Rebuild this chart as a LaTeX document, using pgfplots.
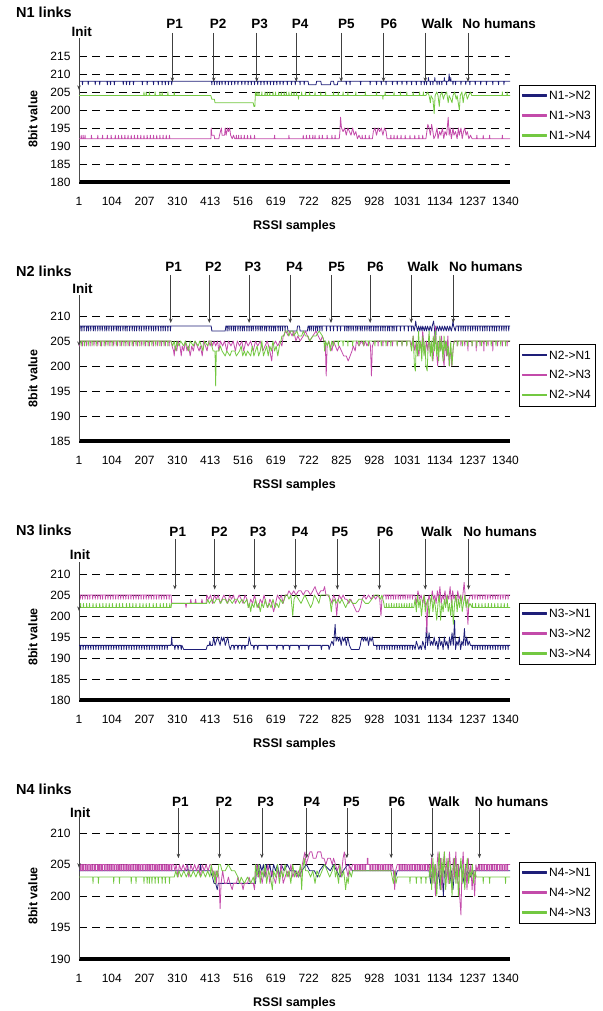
\documentclass[border=0pt]{standalone}
\usepackage{fontspec}
\setmainfont{Liberation Sans}
\usepackage{pgfplots}
\pgfplotsset{compat=1.18}
\usetikzlibrary{arrows.meta}
\definecolor{cnavy}{RGB}{30,30,120}
\definecolor{cmag}{RGB}{195,75,170}
\definecolor{cgreen}{RGB}{115,200,65}
\tikzset{ann/.style={font=\fontsize{13.5}{16}\selectfont\bfseries, inner sep=0pt},
  arr/.style={draw=black!75, line width=0.7pt, -{Stealth[length=4.5pt,width=3.5pt]}},
  ttl/.style={font=\fontsize{14.5}{17}\selectfont\bfseries, anchor=west, inner sep=0pt}}
\pgfplotsset{
  snavy/.style={draw=cnavy, legend image code/.code={\fill[cnavy] (0pt,-0.2pt) rectangle (24pt,1.3pt);}},
  smag/.style={draw=cmag, legend image code/.code={\fill[cmag] (0pt,-0.2pt) rectangle (24pt,1.3pt);}},
  sgreen/.style={draw=cgreen, legend image code/.code={\fill[cgreen] (0pt,-0.2pt) rectangle (24pt,1.3pt);}},
  panel/.style={scale only axis, width=431pt, height=126pt,
  xmin=1, xmax=1354, xtick={1,104,...,1340},
  axis x line*=bottom, axis y line*=left,
  x axis line style={-, line width=4.3pt},
  y axis line style={-, draw=black!70, line width=0.7pt},
  tick style={draw=none},
  ymajorgrids, grid style={dash pattern=on 8pt off 5.3pt, black, line width=0.7pt},
  ticklabel style={font=\fontsize{12}{14}\selectfont},
  xticklabel style={yshift=-12pt}, yticklabel style={xshift=-5pt},
  /pgf/number format/assume math mode=true, /pgf/number format/1000 sep={},
  xlabel={RSSI samples}, ylabel={8bit value},
  every axis x label/.style={at={(axis description cs:0.5,0)}, anchor=center, yshift=-44pt, font=\fontsize{12.5}{14}\selectfont\bfseries},
  every axis y label/.style={at={(axis description cs:0,0.5)}, anchor=center, rotate=90, yshift=46pt, font=\fontsize{12.5}{14}\selectfont\bfseries},
  clip=false, no markers,
  every axis plot/.append style={line width=0.8pt, line join=round},
  legend style={at={(axis description cs:1,0.5)}, anchor=west, xshift=9pt, yshift=3pt,
    draw=black, line width=0.8pt, font=\fontsize{12}{14}\selectfont,
    inner xsep=3pt, inner ysep=1pt, nodes={inner xsep=2pt, inner ysep=5pt}, row sep=0pt},
  legend cell align=left}}
\begin{document}
\begin{tikzpicture}
\useasboundingbox (0,0) rectangle (602pt,1011pt);
% ================= Panel 1 =================
\begin{axis}[panel, at={(79pt,829pt)}, anchor=south west, ymin=180, ymax=215, ytick={180,185,...,215}]
\addplot[snavy] coordinates {(1,208)(11,208)(12,207)(13,208)(29,208)(30,207)(31,208)(51,208)(52,207)(53,208)(65,208)(66,207)(67,208)(89,208)(90,207)(91,208)(99,208)(100,207)(101,208)(111,208)(112,207)(113,208)(139,208)(140,207)(141,208)(149,208)(150,207)(151,208)(159,208)(160,207)(161,208)(171,208)(172,207)(173,208)(199,208)(200,207)(201,208)(214,208)(215,207)(216,208)(234,208)(235,207)(236,208)(249,208)(250,207)(251,208)(261,208)(262,207)(263,208)(271,208)(272,207)(273,208)(281,208)(282,207)(283,208)(291,208)(292,207)(293,208)
(417,208)(418,207)(419,208)(425,208)(426,207)(427,208)(433,208)(434,207)(435,208)(441,208)(442,207)(443,208)(449,208)(450,207)(451,208)(459,208)(460,207)(461,208)(469,208)(470,207)(471,208)(479,208)(480,207)(481,208)(489,208)(490,207)(491,208)(499,208)(500,207)(501,208)(511,208)(512,207)(513,208)(521,208)(522,207)(523,208)(531,208)(532,207)(533,208)(541,208)(542,207)(543,208)(551,208)(552,207)(553,208)(561,208)(562,207)(563,208)(571,208)(572,207)(573,208)(581,208)(582,207)(583,208)(591,208)(592,207)(593,208)(601,208)(602,207)(603,208)(611,208)(612,207)(613,208)(621,208)(622,207)(623,208)(631,208)(632,207)(633,208)(641,208)(642,207)(643,208)(654,208)(655,207)(656,208)(667,208)(668,207)(669,208)(679,208)(680,207)(681,208)(694,208)(695,207)(696,208)(707,208)(708,207)(709,208)
(720,208)(722,207)(745,207)(747,208)(760,208)(762,207)(790,207)(792,208)(800,208)(802,207)(812,207)(814,208)
(839,208)(840,207)(841,208)(851,208)(852,207)(853,208)(884,208)(885,207)(886,208)(914,208)(915,207)(916,208)(934,208)(935,207)(936,208)(949,208)(950,207)(951,208)(964,208)(965,207)(966,208)(984,208)(985,207)(986,208)(999,208)(1000,207)(1001,208)(1014,208)(1015,207)(1016,208)(1029,208)(1030,207)(1031,208)(1044,208)(1045,207)(1046,208)(1059,208)(1060,207)(1061,208)(1074,208)(1075,207)(1076,208)(1084,208)(1085,207)(1086,208)
(1091,208)(1092,207)(1093,208)(1097,208)(1098,209)(1099,208)(1103,208)(1104,207)(1105,208)(1111,208)(1112,207)(1113,208)(1117,208)(1118,209)(1119,208)(1124,208)(1125,207)(1126,208)(1131,208)(1132,207)(1133,208)(1139,208)(1140,207)(1141,208)(1147,208)(1148,209)(1149,208)(1154,208)(1155,207)(1156,208)(1161,208)(1163,210)(1165,208)(1167,208)(1168,209)(1169,208)(1174,208)(1175,207)(1176,208)(1182,208)(1183,207)(1184,208)
(1199,208)(1200,207)(1201,208)(1214,208)(1215,207)(1216,208)(1227,208)(1228,207)(1229,208)(1244,208)(1245,207)(1246,208)(1261,208)(1262,207)(1263,208)(1279,208)(1280,207)(1281,208)(1299,208)(1300,207)(1301,208)(1317,208)(1318,207)(1319,208)(1334,208)(1335,207)(1336,208)(1354,208)};
\addplot[smag] coordinates {(1,192)(7,192)(8,193)(9,192)(13,192)(14,193)(15,192)(19,192)(20,193)(21,192)(39,192)(40,193)(41,192)(59,192)(60,193)(61,192)(74,192)(75,193)(76,192)(89,192)(90,193)(91,192)(101,192)(102,193)(103,192)(114,192)(115,193)(116,192)(124,192)(125,193)(126,192)(134,192)(135,193)(136,192)(144,192)(145,193)(146,192)(154,192)(155,193)(156,192)(164,192)(165,193)(166,192)(174,192)(175,193)(176,192)(184,192)(185,193)(186,192)(194,192)(195,193)(196,192)(204,192)(205,193)(206,192)(214,192)(215,193)(216,192)(224,192)(225,193)(226,192)(234,192)(235,193)(236,192)(244,192)(245,193)(246,192)(254,192)(255,193)(256,192)(264,192)(265,193)(266,192)(274,192)(275,193)(276,192)(284,192)(285,193)(286,192)
(415,192)(416,195)(418,193)(425,193)(427,192)(440,192)(442,193)(448,195)(450,193)(458,193)(460,195)(463,193)(467,195)(470,194)(474,195)(477,193)(482,192)(486,193)(490,192)
(494,192)(495,193)(496,192)(501,192)(502,193)(503,192)(509,192)(510,193)(511,192)(519,192)(520,193)(521,192)(529,192)(530,193)(531,192)(539,192)(540,193)(541,192)(551,192)(552,193)(553,192)
(614,192)(615,193)(616,192)(659,192)(660,193)(661,192)
(704,192)(705,193)(706,192)(714,192)(715,193)(716,192)(724,192)(725,193)(726,192)(734,192)(735,193)(736,192)(741,192)(742,193)(743,192)(754,192)(755,193)(756,192)(764,192)(765,193)(766,192)(779,192)(780,193)(781,192)(794,192)(795,193)(796,192)(804,192)(805,193)(806,192)
(818,192)(820,194)(822,198)(825,195)(830,194)(835,195)(840,193)(845,195)(850,194)(855,193)(860,195)(865,193)(870,194)(875,192)(880,193)(885,192)
(889,192)(890,193)(891,192)(899,192)(900,193)(901,192)(911,192)(912,193)(913,192)
(922,192)(925,194)(930,195)(935,193)(940,195)(945,194)(950,195)(955,193)(960,195)(965,194)(968,192)
(979,192)(980,193)(981,192)(989,192)(990,193)(991,192)(999,192)(1000,193)(1001,192)(1011,192)(1012,193)(1013,192)(1024,192)(1025,193)(1026,192)(1039,192)(1040,193)(1041,192)(1054,192)(1055,193)(1056,192)(1067,192)(1068,193)(1069,192)(1079,192)(1080,193)(1081,192)
(1090,192)(1093,194)(1096,196)(1100,195)(1104,193)(1108,196)(1112,194)(1115,192)(1120,193)(1125,195)(1128,192)(1133,194)(1137,193)(1142,195)(1146,192)(1150,194)(1155,193)(1160,198)(1163,193)(1166,195)(1170,192)(1175,195)(1178,193)(1183,194)(1188,192)(1192,195)(1195,193)(1200,195)(1204,192)(1208,194)(1212,195)(1216,193)(1220,194)(1225,192)(1230,193)(1235,192)
(1249,192)(1250,193)(1251,192)(1269,192)(1270,193)(1271,192)(1289,192)(1290,193)(1291,192)(1329,192)(1330,193)(1331,192)(1354,192)};
\addplot[sgreen] coordinates {(1,204)(204,204)(205,205)(206,204)(211,204)(212,205)(213,204)(221,204)(222,205)(223,204)(239,204)(240,205)(241,204)(254,204)(255,205)(256,204)(261,204)(262,205)(263,204)(279,204)(280,205)(281,204)(299,204)(300,205)(301,204)
(415,204)(418,203)(426,203)(428,202)(548,202)(550,201)(553,201)(555,205)(557,204)
(559,204)(560,205)(561,204)(565,204)(566,205)(567,204)(574,204)(575,205)(576,204)(584,204)(585,205)(586,204)(591,204)(592,205)(593,204)(599,204)(600,205)(601,204)(609,204)(610,205)(611,204)(617,204)(618,205)(619,204)(627,204)(628,205)(629,204)(635,204)(636,205)(637,204)(644,204)(645,205)(646,204)(651,204)(652,205)(653,204)(659,204)(660,205)(661,204)(667,204)(668,205)(669,204)(675,204)(676,205)(677,204)(683,204)(684,205)(685,204)(689,204)(690,203)(691,204)(699,204)(700,205)(701,204)
(711,204)(712,205)(713,204)(724,204)(725,205)(726,204)(741,204)(742,205)(743,204)(759,204)(760,205)(761,204)(774,204)(775,205)(776,204)(799,204)(800,205)(801,204)(814,204)(815,205)(816,204)(829,204)(830,205)(831,204)(844,204)(845,205)(846,204)(869,204)(870,205)(871,204)(899,204)(900,205)(901,204)(934,204)(935,205)(936,204)(954,204)(955,203)(956,204)(961,204)(962,205)(963,204)(989,204)(990,205)(991,204)(1009,204)(1010,205)(1011,204)(1029,204)(1030,205)(1031,204)(1049,204)(1050,205)(1051,204)(1069,204)(1070,205)(1071,204)(1081,204)(1082,205)(1083,204)
(1090,204)(1095,205)(1100,204)(1104,202)(1106,204)(1112,203)(1116,199)(1119,204)(1124,205)(1128,204)(1132,201)(1135,204)(1140,205)(1145,203)(1148,204)(1155,205)(1160,202)(1163,204)(1168,203)(1172,202)(1175,204)(1180,205)(1185,203)(1188,204)(1195,200)(1198,204)(1203,205)(1207,202)(1210,204)(1215,205)(1220,203)(1224,204)(1230,205)(1234,204)
(1329,204)(1330,205)(1331,204)(1344,204)(1345,205)(1346,204)(1354,204)};
\legend{N1->N2, N1->N3, N1->N4}
\node[ttl] at (axis cs:1,215) [xshift=-63pt, yshift=44pt] {N1 links};
\node[ann] at (axis cs:10,221.7) {Init};
\node[ann] at (axis cs:301,223.9) {P1};
\node[ann] at (axis cs:438,223.9) {P2};
\node[ann] at (axis cs:568,223.9) {P3};
\node[ann] at (axis cs:695,223.9) {P4};
\node[ann] at (axis cs:840,223.9) {P5};
\node[ann] at (axis cs:974,223.9) {P6};
\node[ann] at (axis cs:1125,223.9) {Walk};
\node[ann] at (axis cs:1320,223.9) {No humans};
\draw[arr] (axis cs:1,220) -- (axis cs:1,205.6);
\pgfplotsinvokeforeach{294,424,559,683,824,957,1088,1222}{\draw[arr] (axis cs:#1,221.4) -- (axis cs:#1,207.8);}
\end{axis}
% ================= Panel 2 =================
\begin{axis}[panel, at={(79pt,570pt)}, anchor=south west, height=125pt, ymin=185, ymax=210, ytick={185,190,...,210}]
\addplot[snavy] coordinates {(1,208)(3,208)(4,207)(5,208)(9,208)(10,207)(11,208)(16,208)(17,207)(18,208)(24,208)(25,207)(26,208)(30,208)(31,207)(32,208)(37,208)(38,207)(39,208)(45,208)(46,207)(47,208)(51,208)(52,207)(53,208)(59,208)(60,207)(61,208)(66,208)(67,207)(68,208)(73,208)(74,207)(75,208)(81,208)(82,207)(83,208)(87,208)(88,207)(89,208)(94,208)(95,207)(96,208)(102,208)(103,207)(104,208)(109,208)(110,207)(111,208)(117,208)(118,207)(119,208)(123,208)(124,207)(125,208)(130,208)(131,207)(132,208)(138,208)(139,207)(140,208)(145,208)(146,207)(147,208)(151,208)(152,207)(153,208)(159,208)(160,207)(161,208)(167,208)(168,207)(169,208)(174,208)(175,207)(176,208)(181,208)(182,207)(183,208)(189,208)(190,207)(191,208)(196,208)(197,207)(198,208)(204,208)(205,207)(206,208)(211,208)(212,207)(213,208)(219,208)(220,207)(221,208)(227,208)(228,207)(229,208)(234,208)(235,207)(236,208)(241,208)(242,207)(243,208)(249,208)(250,207)(251,208)(257,208)(258,207)(259,208)(264,208)(265,207)(266,208)(271,208)(272,207)(273,208)(279,208)(280,207)(281,208)(287,208)(288,207)(289,208)
(416,208)(418,207)(460,207)(462,208)
(465,208)(466,207)(467,208)(471,208)(472,207)(473,208)(478,208)(479,207)(480,208)(485,208)(486,207)(487,208)(491,208)(492,207)(493,208)(499,208)(500,207)(501,208)(506,208)(507,207)(508,208)(513,208)(514,207)(515,208)(519,208)(520,207)(521,208)(527,208)(528,207)(529,208)(534,208)(535,207)(536,208)(541,208)(542,207)(543,208)(547,208)(548,207)(549,208)(555,208)(556,207)(557,208)(562,208)(563,207)(564,208)(569,208)(570,207)(571,208)(575,208)(576,207)(577,208)(583,208)(584,207)(585,208)(589,208)(590,207)(591,208)(597,208)(598,207)(599,208)(604,208)(605,207)(606,208)(611,208)(612,207)(613,208)(617,208)(618,207)(619,208)(625,208)(626,207)(627,208)(632,208)(633,207)(634,208)(639,208)(640,207)(641,208)(647,208)(648,207)(649,208)
(655,208)(657,207)(685,207)(687,208)(693,208)(695,207)(718,207)(720,208)
(723,208)(724,207)(725,208)(729,208)(730,207)(731,208)(736,208)(737,207)(738,208)(743,208)(744,207)(745,208)(749,208)(750,207)(751,208)(756,208)(757,207)(758,208)(763,208)(764,207)(765,208)
(777,208)(778,207)(779,208)(789,208)(790,207)(791,208)(799,208)(800,207)(801,208)(811,208)(812,207)(813,208)(821,208)(822,207)(823,208)
(834,208)(835,207)(836,208)(841,208)(842,207)(843,208)(847,208)(848,207)(849,208)(854,208)(855,207)(856,208)(861,208)(862,207)(863,208)(869,208)(870,207)(871,208)(875,208)(876,207)(877,208)(883,208)(884,207)(885,208)(889,208)(890,207)(891,208)(897,208)(898,207)(899,208)(904,208)(905,207)(906,208)(911,208)(912,207)(913,208)(917,208)(918,207)(919,208)(925,208)(926,207)(927,208)(932,208)(933,207)(934,208)(939,208)(940,207)(941,208)(947,208)(948,207)(949,208)(954,208)(955,207)(956,208)(961,208)(962,207)(963,208)(969,208)(970,207)(971,208)(975,208)(976,207)(977,208)(983,208)(984,207)(985,208)(989,208)(990,207)(991,208)(997,208)(998,207)(999,208)
(1009,208)(1010,207)(1011,208)(1021,208)(1022,207)(1023,208)(1034,208)(1035,207)(1036,208)(1044,208)(1045,207)(1046,208)
(1050,208)(1053,207)(1056,208)(1058,209)(1060,208)(1064,207)(1067,208)(1071,207)(1074,208)(1078,207)(1080,208)(1085,207)(1088,208)(1092,207)(1095,208)(1100,207)(1103,208)(1108,207)(1110,208)(1114,209)(1116,208)(1120,205)(1122,207)(1125,208)(1130,207)(1133,208)(1138,207)(1141,208)(1146,207)(1149,208)(1154,207)(1157,208)(1162,207)(1165,208)(1170,207)(1173,208)(1175,209)(1177,208)(1182,207)(1185,208)
(1191,208)(1192,207)(1193,208)(1199,208)(1200,207)(1201,208)(1206,208)(1207,207)(1208,208)(1213,208)(1214,207)(1215,208)(1221,208)(1222,207)(1223,208)(1229,208)(1230,207)(1231,208)(1236,208)(1237,207)(1238,208)(1244,208)(1245,207)(1246,208)(1251,208)(1252,207)(1253,208)(1259,208)(1260,207)(1261,208)(1267,208)(1268,207)(1269,208)(1274,208)(1275,207)(1276,208)(1281,208)(1282,207)(1283,208)(1289,208)(1290,207)(1291,208)(1297,208)(1298,207)(1299,208)(1304,208)(1305,207)(1306,208)(1311,208)(1312,207)(1313,208)(1319,208)(1320,207)(1321,208)(1327,208)(1328,207)(1329,208)(1334,208)(1335,207)(1336,208)(1341,208)(1342,207)(1343,208)(1349,208)(1350,207)(1351,208)(1354,208)};
\addplot[smag] coordinates {(1,205)(2,205)(3,204)(4,205)(11,205)(12,204)(13,205)(23,205)(24,204)(25,205)(35,205)(36,204)(37,205)(47,205)(48,204)(49,205)(59,205)(60,204)(61,205)(71,205)(72,204)(73,205)(84,205)(85,204)(86,205)(97,205)(98,204)(99,205)(109,205)(110,204)(111,205)(121,205)(122,204)(123,205)(134,205)(135,204)(136,205)(147,205)(148,204)(149,205)(159,205)(160,204)(161,205)(171,205)(172,204)(173,205)(184,205)(185,204)(186,205)(197,205)(198,204)(199,205)(209,205)(210,204)(211,205)(221,205)(222,204)(223,205)(234,205)(235,204)(236,205)(247,205)(248,204)(249,205)(259,205)(260,204)(261,205)(271,205)(272,204)(273,205)(283,205)(284,204)(285,205)
(290,205)(293,204)(298,203)(300,202)(302,204)(308,203)(312,205)(318,204)(322,202)(325,204)(330,203)(335,205)(340,203)(345,204)(350,202)(355,204)(360,203)(366,205)(372,204)(378,203)(382,204)(388,202)(392,205)(398,204)(403,203)(408,205)(413,204)
(416,205)(420,204)(425,205)(430,204)(436,205)(440,203)(445,205)(452,204)(458,205)(465,203)(470,205)(478,204)(485,205)(492,203)(498,205)(505,204)(512,205)(518,203)(525,205)(532,204)(540,205)(548,203)(555,205)(562,204)(570,205)(578,203)(585,204)(592,205)(600,203)(606,201)(610,204)(618,205)(625,204)(632,205)(638,204)
(642,206)(650,207)(658,206)(662,207)(670,206)(675,207)(682,205)(688,206)(695,205)(705,206)(712,207)(718,206)(725,205)(735,206)(745,207)(752,206)(760,205)(765,206)(770,205)
(774,205)(777,198)(780,204)(785,205)(790,204)(795,203)(800,205)(806,204)(812,203)(818,204)(825,203)(832,202)(840,202)(846,201)(852,202)(858,203)(862,204)(868,203)(872,205)(880,204)(888,205)(895,204)(900,205)(905,204)(912,205)(916,204)(919,198)(922,204)(928,205)
(939,205)(940,204)(941,205)(954,205)(955,204)(956,205)(969,205)(970,204)(971,205)(984,205)(985,204)(986,205)(999,205)(1000,204)(1001,205)(1014,205)(1015,204)(1016,205)(1029,205)(1030,204)(1031,205)
(1042,205)(1046,204)(1050,206)(1055,203)(1060,205)(1064,204)(1068,202)(1072,205)(1076,203)(1080,207)(1084,204)(1088,202)(1092,205)(1096,203)(1100,206)(1104,202)(1108,205)(1112,201)(1116,204)(1120,208)(1123,203)(1127,200)(1131,205)(1135,203)(1139,206)(1143,202)(1147,200)(1151,205)(1155,202)(1159,206)(1163,200)(1167,204)(1171,200)(1175,203)(1178,205)
(1187,205)(1188,204)(1189,205)(1199,205)(1200,204)(1201,205)(1211,205)(1212,204)(1213,205)(1221,205)(1222,203)(1223,205)(1234,205)(1235,204)(1236,205)(1247,205)(1248,203)(1249,205)(1259,205)(1260,204)(1261,205)(1271,205)(1272,203)(1273,205)(1284,205)(1285,204)(1286,205)(1299,205)(1300,203)(1301,205)(1314,205)(1315,204)(1316,205)(1329,205)(1330,204)(1331,205)(1344,205)(1345,204)(1346,205)(1354,205)};
\addplot[sgreen] coordinates {(1,205)(7,205)(8,204)(9,205)(17,205)(18,204)(19,205)(29,205)(30,204)(31,205)(41,205)(42,204)(43,205)(54,205)(55,204)(56,205)(67,205)(68,204)(69,205)(79,205)(80,204)(81,205)(91,205)(92,204)(93,205)(104,205)(105,204)(106,205)(117,205)(118,204)(119,205)(129,205)(130,204)(131,205)(141,205)(142,204)(143,205)(154,205)(155,204)(156,205)(167,205)(168,204)(169,205)(179,205)(180,204)(181,205)(191,205)(192,204)(193,205)(204,205)(205,204)(206,205)(217,205)(218,204)(219,205)(229,205)(230,204)(231,205)(241,205)(242,204)(243,205)(254,205)(255,204)(256,205)(267,205)(268,204)(269,205)(279,205)(280,204)(281,205)
(290,205)(295,204)(300,205)(305,203)(308,205)(315,204)(320,205)(330,204)(335,205)(345,203)(350,205)(360,204)(365,205)(375,204)(380,205)(390,203)(395,205)(405,204)(410,205)
(415,205)(418,204)(422,203)(428,203)(430,196)(432,203)(440,203)(445,204)(450,203)(460,202)(465,203)(475,202)(480,203)(490,203)(495,202)(505,203)(510,204)(515,202)(520,203)(525,202)(530,203)(540,202)(545,204)(550,202)(555,203)(560,204)(565,202)(570,203)(575,205)(580,202)(585,203)(590,204)(595,202)(600,204)(605,203)(610,205)(615,203)(620,204)(625,202)(630,204)(635,205)(638,206)(645,206)(648,207)(655,207)(660,206)(665,207)(672,207)(675,206)(685,207)(690,206)(700,206)(705,207)(712,206)(720,206)(725,205)(735,206)(745,206)(755,207)(765,206)(770,205)(772,203)(775,205)(780,204)(785,205)(790,203)(795,205)(800,204)(803,205)
(814,205)(815,204)(816,205)(829,205)(830,204)(831,205)(844,205)(845,204)(846,205)(859,205)(860,204)(861,205)(879,205)(880,204)(881,205)(894,205)(895,204)(896,205)(909,205)(910,204)(911,205)(929,205)(930,204)(931,205)(949,205)(950,204)(951,205)(964,205)(965,204)(966,205)(979,205)(980,204)(981,205)(999,205)(1000,204)(1001,205)(1014,205)(1015,204)(1016,205)(1029,205)(1030,204)(1031,205)
(1040,205)(1045,203)(1050,206)(1054,200)(1057,199)(1060,205)(1064,202)(1067,207)(1070,203)(1074,205)(1077,201)(1080,206)(1084,202)(1087,205)(1090,200)(1094,199)(1097,204)(1100,207)(1104,202)(1107,205)(1110,201)(1113,206)(1117,203)(1120,207)(1124,202)(1127,205)(1130,201)(1134,206)(1137,203)(1140,205)(1144,201)(1147,206)(1150,203)(1154,205)(1157,202)(1160,204)(1164,200)(1168,205)(1172,200)(1176,204)(1180,205)
(1189,205)(1190,204)(1191,205)(1204,205)(1205,204)(1206,205)(1219,205)(1220,204)(1221,205)(1234,205)(1235,204)(1236,205)(1249,205)(1250,204)(1251,205)(1264,205)(1265,204)(1266,205)(1279,205)(1280,204)(1281,205)(1294,205)(1295,204)(1296,205)(1309,205)(1310,204)(1311,205)(1324,205)(1325,204)(1326,205)(1339,205)(1340,204)(1341,205)(1354,205)};
\legend{N2->N1, N2->N3, N2->N4}
\node[ttl] at (axis cs:1,210) [xshift=-63pt, yshift=45pt] {N2 links};
\node[ann] at (axis cs:12,215.4) {Init};
\node[ann] at (axis cs:298,219.8) {P1};
\node[ann] at (axis cs:423,219.8) {P2};
\node[ann] at (axis cs:547,219.8) {P3};
\node[ann] at (axis cs:677,219.8) {P4};
\node[ann] at (axis cs:810,219.8) {P5};
\node[ann] at (axis cs:931,219.8) {P6};
\node[ann] at (axis cs:1081,219.8) {Walk};
\node[ann] at (axis cs:1278,219.8) {No humans};
\draw[arr] (axis cs:1,214.2) -- (axis cs:1,204);
\pgfplotsinvokeforeach{289,410,535,664,792,915,1044,1176}{\draw[arr] (axis cs:#1,218.2) -- (axis cs:#1,208.6);}
\end{axis}
% ================= Panel 3 =================
\begin{axis}[panel, at={(79pt,311pt)}, anchor=south west, ymin=180, ymax=210, ytick={180,185,...,210}]
\addplot[snavy] coordinates {(1,193)(5,193)(6,192)(7,193)(13,193)(14,192)(15,193)(21,193)(22,192)(23,193)(29,193)(30,192)(31,193)(37,193)(38,192)(39,193)(45,193)(46,192)(47,193)(53,193)(54,192)(55,193)(61,193)(62,192)(63,193)(69,193)(70,192)(71,193)(77,193)(78,192)(79,193)(85,193)(86,192)(87,193)(93,193)(94,192)(95,193)(101,193)(102,192)(103,193)(109,193)(110,192)(111,193)(117,193)(118,192)(119,193)(125,193)(126,192)(127,193)(133,193)(134,192)(135,193)(141,193)(142,192)(143,193)(149,193)(150,192)(151,193)(157,193)(158,192)(159,193)(165,193)(166,192)(167,193)(173,193)(174,192)(175,193)(181,193)(182,192)(183,193)(189,193)(190,192)(191,193)(197,193)(198,192)(199,193)(205,193)(206,192)(207,193)(213,193)(214,192)(215,193)(221,193)(222,192)(223,193)(229,193)(230,192)(231,193)(237,193)(238,192)(239,193)(245,193)(246,192)(247,193)(253,193)(254,192)(255,193)(261,193)(262,192)(263,193)(269,193)(270,192)(271,193)(277,193)(278,192)(279,193)
(290,193)(292,195)(294,193)(300,193)(302,192)(304,193)(310,193)(312,192)(314,193)(320,193)(322,192)(324,193)(330,192)(400,192)(404,193)(410,193)(412,194)(414,193)
(420,193)(424,195)(428,193)(432,194)(436,195)(440,194)(444,193)(448,195)(452,194)(456,195)(460,193)(464,194)(468,195)(472,193)(476,192)(480,193)
(486,193)(488,192)(490,193)(498,193)(500,192)(502,193)(510,193)(512,192)(514,193)(520,193)(522,192)(524,193)(532,193)(535,195)(538,194)(541,193)(548,193)(550,192)(552,193)
(560,193)(562,192)(564,193)(590,193)(592,192)(594,193)(620,193)(622,192)(624,193)(640,193)(642,192)(644,193)(660,193)(662,192)(664,193)(690,193)(692,192)(694,193)(720,193)(722,192)(724,193)(760,193)(762,192)(764,193)(780,193)
(784,193)(786,192)(790,193)(795,194)(800,193)(805,198)(808,194)(812,195)(816,194)(820,195)(824,193)(828,195)(832,194)(836,195)(840,193)(845,195)(850,193)(856,192)(880,192)(884,193)
(886,194)(890,195)(894,194)(898,195)(902,194)(906,195)(910,193)(914,195)(918,194)(922,195)(926,193)(930,193)
(935,193)(936,192)(937,193)(943,193)(944,192)(945,193)(951,193)(952,192)(953,193)(959,193)(960,192)(961,193)(967,193)(968,192)(969,193)(975,193)(976,192)(977,193)(983,193)(984,192)(985,193)(991,193)(992,192)(993,193)(999,193)(1000,192)(1001,193)(1007,193)(1008,192)(1009,193)(1015,193)(1016,192)(1017,193)(1023,193)(1024,192)(1025,193)(1031,193)(1032,192)(1033,193)(1039,193)(1040,192)(1041,193)(1047,193)(1048,192)(1049,193)
(1052,193)(1056,192)(1060,194)(1064,193)(1068,192)(1072,193)(1076,192)(1080,194)(1084,193)(1088,192)(1092,198)(1095,193)(1100,196)(1104,193)(1108,194)(1112,193)(1116,195)(1120,193)(1124,194)(1128,192)(1132,195)(1136,193)(1140,194)(1144,192)(1148,195)(1152,193)(1156,194)(1160,192)(1164,195)(1168,193)(1172,196)(1176,193)(1180,199)(1183,192)(1187,194)(1191,193)(1195,195)(1199,192)(1203,194)(1207,193)(1211,197)(1214,193)(1218,195)(1222,193)(1226,194)(1230,193)
(1235,193)(1236,192)(1237,193)(1243,193)(1244,192)(1245,193)(1251,193)(1252,192)(1253,193)(1259,193)(1260,192)(1261,193)(1267,193)(1268,192)(1269,193)(1275,193)(1276,192)(1277,193)(1283,193)(1284,192)(1285,193)(1291,193)(1292,192)(1293,193)(1299,193)(1300,192)(1301,193)(1307,193)(1308,192)(1309,193)(1315,193)(1316,192)(1317,193)(1323,193)(1324,192)(1325,193)(1331,193)(1332,192)(1333,193)(1339,193)(1340,192)(1341,193)(1347,193)(1348,192)(1349,193)(1354,193)};
\addplot[smag] coordinates {(1,205)(4,205)(5,204)(6,205)(11,205)(12,204)(13,205)(19,205)(20,204)(21,205)(27,205)(28,204)(29,205)(34,205)(35,204)(36,205)(43,205)(44,204)(45,205)(51,205)(52,204)(53,205)(59,205)(60,204)(61,205)(67,205)(68,204)(69,205)(74,205)(75,204)(76,205)(83,205)(84,204)(85,205)(91,205)(92,204)(93,205)(99,205)(100,204)(101,205)(107,205)(108,204)(109,205)(115,205)(116,204)(117,205)(123,205)(124,204)(125,205)(131,205)(132,204)(133,205)(139,205)(140,204)(141,205)(147,205)(148,204)(149,205)(155,205)(156,204)(157,205)(163,205)(164,204)(165,205)(171,205)(172,204)(173,205)(179,205)(180,204)(181,205)(187,205)(188,204)(189,205)(195,205)(196,204)(197,205)(203,205)(204,204)(205,205)(211,205)(212,204)(213,205)(219,205)(220,204)(221,205)(227,205)(228,204)(229,205)(235,205)(236,204)(237,205)(243,205)(244,204)(245,205)(251,205)(252,204)(253,205)(259,205)(260,204)(261,205)(267,205)(268,204)(269,205)(275,205)(276,204)(277,205)(283,205)(284,204)(285,205)
(290,205)(292,203)(335,203)(337,202)(339,203)(350,203)(352,204)(354,203)(365,203)(367,204)(369,203)(385,203)(387,204)(389,203)(400,203)
(402,205)(408,204)(414,205)(420,203)(426,205)(432,204)(438,205)(444,203)(450,204)(456,205)(462,204)(468,203)(474,205)(480,204)(486,205)(492,203)(498,204)(504,205)(510,204)(516,203)(522,205)(528,204)(534,202)(540,204)(546,203)(552,205)(558,203)(564,202)(570,204)(576,203)(582,205)(588,203)(594,202)(600,204)(606,203)(612,201)(618,203)(624,205)(630,204)(636,205)(642,203)(648,205)
(655,205)(660,206)(668,205)(675,206)(682,205)(690,206)(698,206)(705,205)(712,206)(720,206)(728,205)(735,206)(742,207)(746,206)(752,205)(760,206)(768,206)(772,207)(776,205)(782,205)
(790,204)(795,203)(800,205)(806,204)(810,200)(813,203)(818,205)(824,204)(830,205)(836,204)(842,204)(848,203)(854,204)
(860,203)(866,202)(872,201)(878,201)(884,202)(890,204)(896,205)(902,204)(910,205)(918,204)(925,205)(932,204)(940,205)(945,204)(949,200)(952,204)(958,205)
(964,205)(965,204)(966,205)(971,205)(972,204)(973,205)(979,205)(980,204)(981,205)(987,205)(988,204)(989,205)(994,205)(995,204)(996,205)(1002,205)(1003,204)(1004,205)(1009,205)(1010,204)(1011,205)(1017,205)(1018,204)(1019,205)(1024,205)(1025,204)(1026,205)(1032,205)(1033,204)(1034,205)(1039,205)(1040,204)(1041,205)(1047,205)(1048,204)(1049,205)
(1055,205)(1060,203)(1065,206)(1070,204)(1075,205)(1080,203)(1085,205)(1090,202)(1093,196)(1096,203)(1100,205)(1105,203)(1110,206)(1114,204)(1118,205)(1122,203)(1126,206)(1130,204)(1134,207)(1138,203)(1142,205)(1146,204)(1150,206)(1154,203)(1158,205)(1162,204)(1166,207)(1170,203)(1174,206)(1178,204)(1182,205)(1186,203)(1190,206)(1194,204)(1198,205)(1202,203)(1206,205)(1210,208)(1214,204)(1218,203)(1222,198)(1225,204)(1230,205)
(1235,205)(1236,204)(1237,205)(1243,205)(1244,204)(1245,205)(1251,205)(1252,204)(1253,205)(1259,205)(1260,204)(1261,205)(1267,205)(1268,204)(1269,205)(1275,205)(1276,204)(1277,205)(1283,205)(1284,204)(1285,205)(1291,205)(1292,204)(1293,205)(1299,205)(1300,204)(1301,205)(1307,205)(1308,204)(1309,205)(1315,205)(1316,204)(1317,205)(1323,205)(1324,204)(1325,205)(1331,205)(1332,204)(1333,205)(1339,205)(1340,204)(1341,205)(1347,205)(1348,204)(1349,205)(1354,205)};
\addplot[sgreen] coordinates {(1,202)(5,202)(6,203)(7,202)(14,202)(15,203)(16,202)(24,202)(25,203)(26,202)(33,202)(34,203)(35,202)(44,202)(45,203)(46,202)(54,202)(55,203)(56,202)(65,202)(66,203)(67,202)(75,202)(76,203)(77,202)(85,202)(86,203)(87,202)(95,202)(96,203)(97,202)(105,202)(106,203)(107,202)(117,202)(118,203)(119,202)(127,202)(128,203)(129,202)(137,202)(138,203)(139,202)(149,202)(150,203)(151,202)(159,202)(160,203)(161,202)(169,202)(170,203)(171,202)(179,202)(180,203)(181,202)(191,202)(192,203)(193,202)(201,202)(202,203)(203,202)(211,202)(212,203)(213,202)(221,202)(222,203)(223,202)(233,202)(234,203)(235,202)(243,202)(244,203)(245,202)(255,202)(256,203)(257,202)(265,202)(266,203)(267,202)(275,202)(276,203)(277,202)(285,202)(286,203)(287,202)
(290,202)(292,203)(400,203)
(402,203)(405,204)(410,203)(418,204)(425,203)(432,204)(440,204)(446,203)(452,204)(460,204)(466,203)(474,204)(482,203)(490,204)(498,204)(505,203)(512,204)(520,203)(528,204)
(532,202)(536,203)(540,201)(544,203)(550,202)(555,204)(560,202)(565,203)(570,201)(575,203)(580,202)(586,204)(592,202)(598,203)(604,202)(610,204)(616,202)(622,203)(628,202)(634,204)(640,203)(646,204)(650,205)
(655,205)(660,204)(666,205)(672,200)(676,204)(682,205)(690,204)(698,203)(704,204)(710,205)(716,204)(722,203)(728,202)(734,203)(740,205)(748,204)(754,203)(760,205)(770,205)(780,205)
(786,205)(790,203)(793,201)(796,203)(802,204)(808,203)(814,204)(820,203)(826,204)(832,203)(838,202)(844,203)(850,204)
(860,203)(870,203)(880,204)(890,204)(900,203)(910,203)(920,204)(930,205)(940,205)(948,204)(952,205)
(958,203)(960,202)(965,202)(966,203)(967,202)(973,202)(974,203)(975,202)(981,202)(982,203)(983,202)(989,202)(990,203)(991,202)(997,202)(998,203)(999,202)(1005,202)(1006,203)(1007,202)(1013,202)(1014,203)(1015,202)(1021,202)(1022,203)(1023,202)(1029,202)(1030,203)(1031,202)(1037,202)(1038,203)(1039,202)(1045,202)(1046,203)(1047,202)
(1052,202)(1056,204)(1060,201)(1064,205)(1068,202)(1072,204)(1076,200)(1080,203)(1084,205)(1088,201)(1092,203)(1096,204)(1100,200)(1104,203)(1108,205)(1112,201)(1116,204)(1120,202)(1124,199)(1128,203)(1132,205)(1136,199)(1140,203)(1144,201)(1148,204)(1152,202)(1156,205)(1160,201)(1164,203)(1168,200)(1172,204)(1176,198)(1180,203)(1184,205)(1188,201)(1192,204)(1196,202)(1200,205)(1204,201)(1208,203)(1212,205)(1216,202)(1220,204)(1224,202)(1228,203)
(1235,202)(1236,203)(1237,202)(1245,202)(1246,203)(1247,202)(1255,202)(1256,203)(1257,202)(1265,202)(1266,203)(1267,202)(1275,202)(1276,203)(1277,202)(1285,202)(1286,203)(1287,202)(1295,202)(1296,203)(1297,202)(1305,202)(1306,203)(1307,202)(1315,202)(1316,203)(1317,202)(1325,202)(1326,203)(1327,202)(1335,202)(1336,203)(1337,202)(1345,202)(1346,203)(1347,202)(1354,202)};
\legend{N3->N1, N3->N2, N3->N4}
\node[ttl] at (axis cs:1,210) [xshift=-63pt, yshift=44pt] {N3 links};
\node[ann] at (axis cs:4,214.5) {Init};
\node[ann] at (axis cs:311,220) {P1};
\node[ann] at (axis cs:442,220) {P2};
\node[ann] at (axis cs:563,220) {P3};
\node[ann] at (axis cs:694,220) {P4};
\node[ann] at (axis cs:820,220) {P5};
\node[ann] at (axis cs:962,220) {P6};
\node[ann] at (axis cs:1124,220) {Walk};
\node[ann] at (axis cs:1323,220) {No humans};
\draw[arr] (axis cs:1,212.9) -- (axis cs:1,201.2);
\pgfplotsinvokeforeach{302,427,552,680,812,944,1088,1224}{\draw[arr] (axis cs:#1,218.3) -- (axis cs:#1,206.3);}
\end{axis}
% ================= Panel 4 =================
\begin{axis}[panel, at={(79pt,52pt)}, anchor=south west, ymin=190, ymax=210, ytick={190,195,...,210}]
\addplot[snavy] coordinates {(1,204)(300,204)(340,204)(342,205)(344,204)(380,204)(382,205)(384,204)(413,204)(420,203)(425,202)(430,202)(435,201)(438,202)(555,202)(558,204)(562,205)(566,203)(570,205)(575,204)(580,205)(585,203)(590,205)(595,204)(600,205)(606,203)(612,205)(618,204)(624,205)(630,203)(636,205)(645,204)(655,205)(665,204)(680,204)(690,203)(700,204)(715,205)(725,204)(740,204)(750,203)(756,204)(770,205)(790,204)(800,205)(810,204)(820,203)(830,204)(845,205)(860,204)(990,204)(995,203)(1000,204)(1100,204)(1105,202)(1110,204)(1115,203)(1120,205)(1125,202)(1130,204)(1135,201)(1140,204)(1145,200)(1148,204)(1155,203)(1160,205)(1165,202)(1170,204)(1175,201)(1180,204)(1190,203)(1200,205)(1210,202)(1220,204)(1230,203)(1240,204)(1354,204)};
\addplot[smag] coordinates {(1,205)(5,205)(5,204)(8,204)(8,205)(12,205)(12,204)(15,204)(15,205)(20,205)(20,204)(23,204)(23,205)(27,205)(27,204)(30,204)(30,205)(35,205)(35,204)(38,204)(38,205)(42,205)(42,204)(45,204)(45,205)(50,205)(50,204)(53,204)(53,205)(58,205)(58,204)(61,204)(61,205)(65,205)(65,204)(68,204)(68,205)(72,205)(72,204)(75,204)(75,205)(80,205)(80,204)(83,204)(83,205)(88,205)(88,204)(91,204)(91,205)(95,205)(95,204)(98,204)(98,205)(102,205)(102,204)(105,204)(105,205)(110,205)(110,204)(113,204)(113,205)(118,205)(118,204)(121,204)(121,205)(125,205)(125,204)(128,204)(128,205)(132,205)(132,204)(135,204)(135,205)(140,205)(140,204)(143,204)(143,205)(148,205)(148,204)(151,204)(151,205)(155,205)(155,204)(158,204)(158,205)(162,205)(162,204)(165,204)(165,205)(170,205)(170,204)(173,204)(173,205)(178,205)(178,204)(181,204)(181,205)(185,205)(185,204)(188,204)(188,205)(192,205)(192,204)(195,204)(195,205)(200,205)(200,204)(203,204)(203,205)(208,205)(208,204)(211,204)(211,205)(215,205)(215,204)(218,204)(218,205)(222,205)(222,204)(225,204)(225,205)(230,205)(230,204)(233,204)(233,205)(238,205)(238,204)(241,204)(241,205)(245,205)(245,204)(248,204)(248,205)(252,205)(252,204)(255,204)(255,205)(260,205)(260,204)(263,204)(263,205)(268,205)(268,204)(271,204)(271,205)(275,205)(275,204)(278,204)(278,205)(282,205)(282,204)(285,204)(285,205)(290,205)(290,204)(293,204)(293,205)
(298,205)(302,204)(306,205)(312,203)(316,205)(322,204)(328,205)(334,204)(340,205)(346,203)(352,205)(358,204)(364,205)(370,204)(376,205)(382,203)(388,205)(394,204)(400,205)(406,204)(412,205)
(416,205)(420,204)(424,203)(428,204)(432,202)(436,204)(440,203)(444,198)(447,202)(452,204)(458,202)
(465,202)(470,203)(475,202)(482,201)(486,202)(495,202)(500,203)(505,202)(512,202)(516,201)(520,202)(530,202)(535,203)(540,202)(548,202)(552,201)(555,204)
(560,205)(565,203)(570,204)(576,202)(582,204)(588,203)(594,205)(600,202)(606,204)(612,203)(618,202)(624,204)(630,203)(636,205)(642,202)(648,203)(654,204)(660,203)(666,205)(672,203)(678,204)(684,203)(690,204)(696,203)(702,205)
(706,206)(710,207)(714,205)(720,206)(726,207)(732,207)(736,206)(745,206)(750,207)(760,207)(764,206)(770,206)(776,205)(782,206)(790,206)(796,205)(800,206)
(806,205)(812,204)(818,205)(824,203)(830,206)(834,207)(838,205)(842,204)(846,203)(850,205)(855,204)(860,205)
(866,205)(866,204)(869,204)(869,205)(874,205)(874,204)(877,204)(877,205)(882,205)(882,204)(885,204)(885,205)(890,205)(890,204)(893,204)(893,205)(898,205)(898,204)(901,204)(901,205)(906,205)(906,206)(908,206)(908,205)(914,205)(914,204)(917,204)(917,205)(922,205)(922,204)(925,204)(925,205)(930,205)(930,204)(933,204)(933,205)(938,205)(938,204)(941,204)(941,205)(946,205)(946,204)(949,204)(949,205)(954,205)(954,204)(957,204)(957,205)(962,205)(962,204)(965,204)(965,205)(970,205)(970,204)(973,204)(973,205)(978,205)(978,204)(981,204)(981,205)
(984,205)(988,204)(992,201)(995,204)(1000,205)
(1006,205)(1006,204)(1009,204)(1009,205)(1014,205)(1014,204)(1017,204)(1017,205)(1022,205)(1022,204)(1025,204)(1025,205)(1030,205)(1030,204)(1033,204)(1033,205)(1038,205)(1038,204)(1041,204)(1041,205)(1046,205)(1046,204)(1049,204)(1049,205)(1054,205)(1054,204)(1057,204)(1057,205)(1062,205)(1062,204)(1065,204)(1065,205)(1070,205)(1070,204)(1073,204)(1073,205)(1078,205)(1078,204)(1081,204)(1081,205)(1086,205)(1086,204)(1089,204)(1089,205)(1094,205)(1094,204)(1097,204)(1097,205)
(1100,205)(1104,203)(1108,206)(1112,202)(1116,205)(1120,200)(1124,204)(1128,207)(1132,203)(1136,206)(1140,201)(1144,205)(1148,207)(1152,203)(1156,206)(1160,202)(1164,207)(1168,204)(1172,201)(1176,206)(1180,203)(1184,207)(1188,202)(1192,205)(1196,200)(1200,197)(1203,204)(1207,207)(1211,202)(1215,205)(1219,201)(1223,206)(1227,203)(1231,205)(1235,201)(1239,204)(1243,200)(1247,205)(1250,204)
(1256,205)(1256,204)(1259,204)(1259,205)(1264,205)(1264,204)(1267,204)(1267,205)(1272,205)(1272,204)(1275,204)(1275,205)(1280,205)(1280,204)(1283,204)(1283,205)(1288,205)(1288,204)(1291,204)(1291,205)(1296,205)(1296,204)(1299,204)(1299,205)(1304,205)(1304,204)(1307,204)(1307,205)(1312,205)(1312,204)(1315,204)(1315,205)(1320,205)(1320,204)(1323,204)(1323,205)(1328,205)(1328,204)(1331,204)(1331,205)(1336,205)(1336,204)(1339,204)(1339,205)(1344,205)(1344,204)(1347,204)(1347,205)(1354,205)};
\addplot[sgreen] coordinates {(1,203)(44,203)(45,202)(46,203)(61,203)(62,202)(63,203)(109,203)(110,202)(111,203)(127,203)(128,202)(129,203)(164,203)(165,202)(166,203)(179,203)(180,202)(181,203)(204,203)(205,202)(206,203)(214,203)(215,202)(216,203)(221,203)(222,202)(223,203)(229,203)(230,202)(231,203)(239,203)(240,202)(241,203)(249,203)(250,202)(251,203)(261,203)(262,202)(263,203)(271,203)(272,202)(273,203)(284,203)(285,202)(286,203)
(300,203)(305,204)(310,203)(315,204)(322,203)(330,204)(338,203)(345,204)(352,203)(360,204)(368,203)(375,204)(383,203)(390,204)(398,203)(405,204)(412,203)
(416,205)(420,203)(424,204)(428,202)(432,204)(436,203)(440,205)(445,205)(450,204)(460,204)(470,205)(480,204)(490,204)(500,203)
(505,202)(510,203)(520,202)(530,203)(540,202)(548,203)(552,202)(555,205)
(560,203)(565,205)(570,202)(575,204)(580,203)(585,205)(590,202)(596,204)(602,203)(608,201)(612,204)(618,203)(624,205)(630,202)(636,204)(642,203)(648,205)(654,203)(660,204)(666,202)(672,205)(678,203)(684,204)(690,203)(696,205)(700,201)(703,204)(708,206)(712,204)
(720,204)(728,203)(735,204)(742,202)(748,204)(756,203)(764,204)(772,205)(780,204)(788,203)(796,204)
(802,205)(806,203)(810,204)(816,202)(820,205)(826,203)(832,204)(838,201)(842,203)(846,202)(850,204)(856,203)(860,204)
(870,204)(900,204)(930,204)(960,204)(980,204)(984,203)(988,202)(992,204)(996,202)(1000,203)
(1039,203)(1040,202)(1041,203)(1059,203)(1060,202)(1061,203)(1074,203)(1075,202)(1076,203)(1089,203)(1090,202)(1091,203)
(1100,203)(1104,205)(1108,201)(1112,206)(1116,202)(1120,205)(1124,200)(1128,204)(1132,207)(1136,201)(1140,206)(1144,203)(1148,207)(1152,201)(1156,204)(1160,206)(1164,202)(1168,205)(1172,200)(1176,204)(1180,206)(1184,202)(1188,205)(1192,200)(1196,204)(1200,206)(1204,202)(1208,205)(1212,201)(1216,204)(1220,206)(1224,202)(1228,204)(1232,203)(1236,205)(1240,202)(1244,204)(1248,203)
(1269,203)(1270,202)(1271,203)(1289,203)(1290,202)(1291,203)(1339,203)(1340,202)(1341,203)(1354,203)};
\legend{N4->N1, N4->N2, N4->N3}
\node[ttl] at (axis cs:1,210) [xshift=-63pt, yshift=44pt] {N4 links};
\node[ann] at (axis cs:5,213.3) {Init};
\node[ann] at (axis cs:319,214.9) {P1};
\node[ann] at (axis cs:456,214.9) {P2};
\node[ann] at (axis cs:587,214.9) {P3};
\node[ann] at (axis cs:731,214.9) {P4};
\node[ann] at (axis cs:856,214.9) {P5};
\node[ann] at (axis cs:999,214.9) {P6};
\node[ann] at (axis cs:1147,214.9) {Walk};
\node[ann] at (axis cs:1359,214.9) {No humans};
\draw[arr] (axis cs:1,212.5) -- (axis cs:1,204.5);
\pgfplotsinvokeforeach{313,442,575,716,842,981,1109,1258}{\draw[arr] (axis cs:#1,214.0) -- (axis cs:#1,206.0);}
\end{axis}
\end{tikzpicture}
\end{document}
